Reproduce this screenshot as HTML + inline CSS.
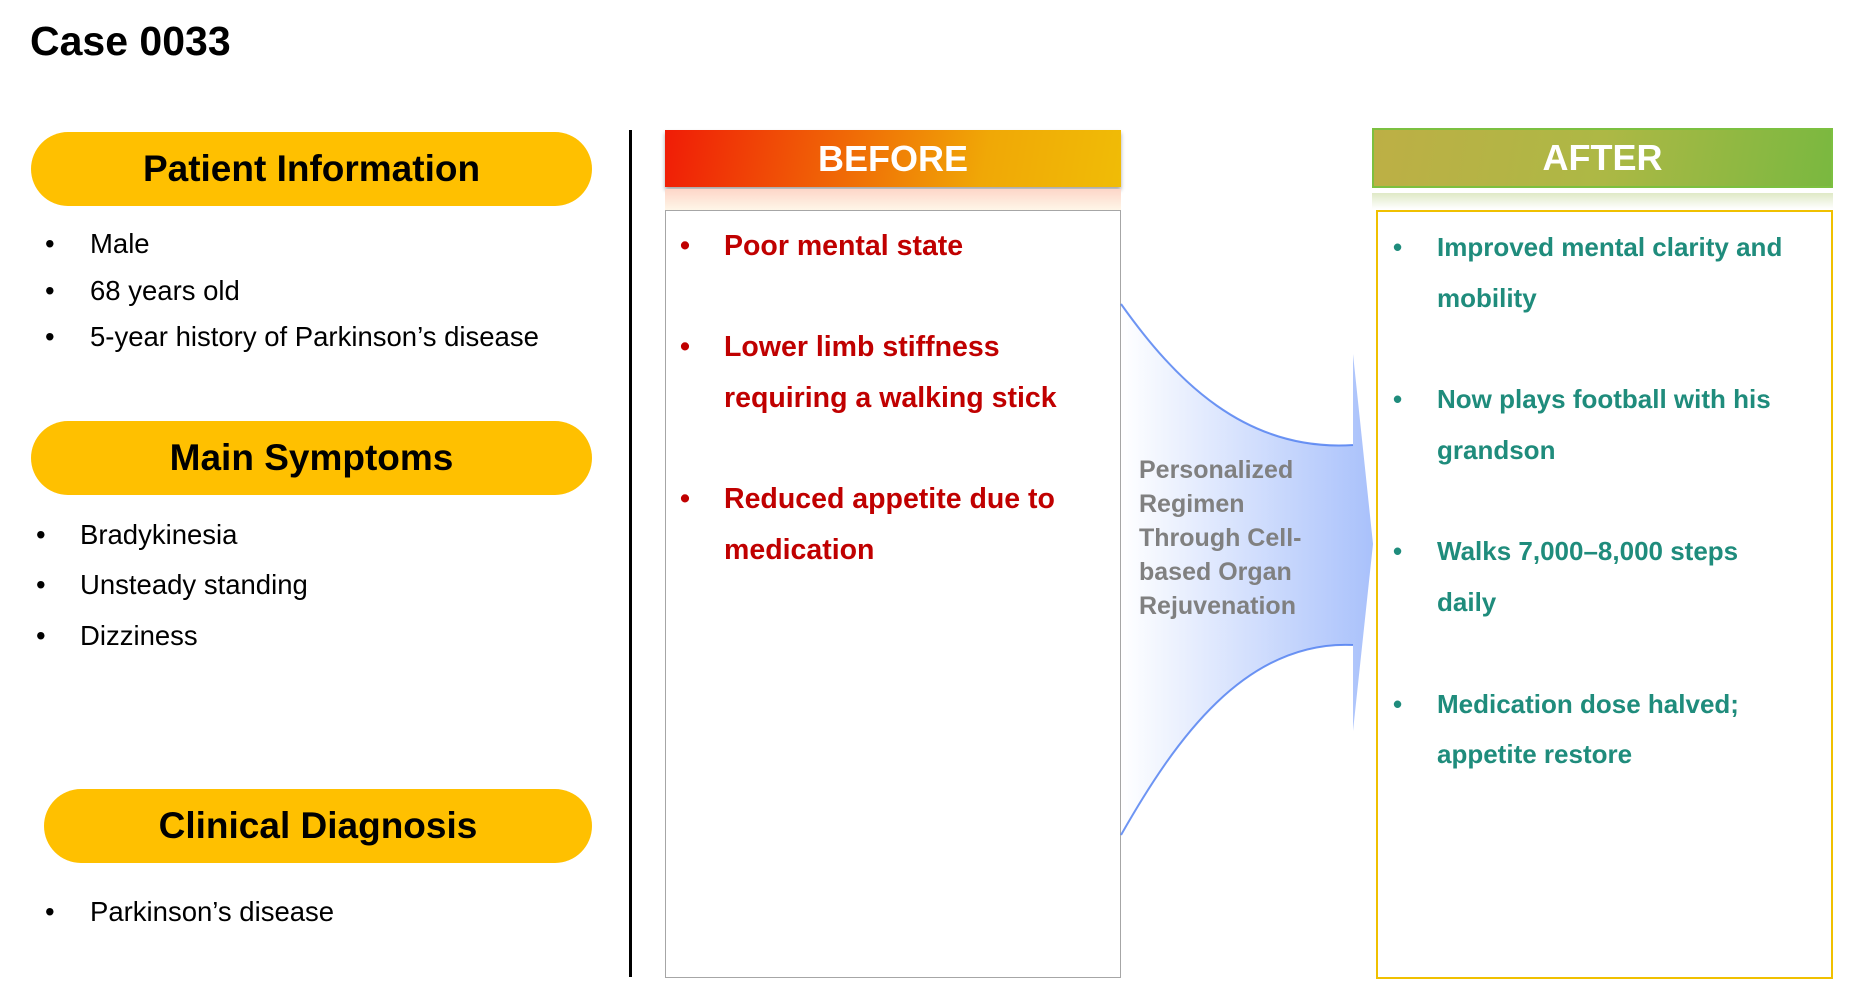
<!DOCTYPE html>
<html><head><meta charset="utf-8"><style>
body{margin:0;width:1860px;height:1007px;background:#fff;position:relative;overflow:hidden;font-family:"Liberation Sans",sans-serif}
.a{position:absolute;white-space:nowrap}
.pill{position:absolute;background:#ffc000;border-radius:37px;height:74px;display:flex;align-items:center;justify-content:center;font-weight:bold;font-size:37px;color:#000}
.li{font-size:27.5px;color:#000}
.red{font-size:28.5px;font-weight:bold;color:#c00000}
.grn{font-size:26px;font-weight:bold;color:#1f8c7c}
.gr{font-size:25px;font-weight:bold;color:#808080;line-height:34px}
</style></head><body>
<div class="a" style="left:30px;top:18px;font-size:41px;font-weight:bold">Case 0033</div>

<div class="pill" style="left:31px;top:132px;width:561px">Patient Information</div>
<div class="a li" style="left:45px;top:228px">•</div><div class="a li" style="left:90px;top:228px">Male</div>
<div class="a li" style="left:45px;top:275px">•</div><div class="a li" style="left:90px;top:275px">68 years old</div>
<div class="a li" style="left:45px;top:321px">•</div><div class="a li" style="left:90px;top:321px">5-year history of Parkinson’s disease</div>

<div class="pill" style="left:31px;top:421px;width:561px">Main Symptoms</div>
<div class="a li" style="left:36px;top:519px">•</div><div class="a li" style="left:80px;top:519px">Bradykinesia</div>
<div class="a li" style="left:36px;top:569px">•</div><div class="a li" style="left:80px;top:569px">Unsteady standing</div>
<div class="a li" style="left:36px;top:620px">•</div><div class="a li" style="left:80px;top:620px">Dizziness</div>

<div class="pill" style="left:44px;top:789px;width:548px">Clinical Diagnosis</div>
<div class="a li" style="left:45px;top:896px">•</div><div class="a li" style="left:90px;top:896px">Parkinson’s disease</div>

<div class="a" style="left:629px;top:130px;width:3px;height:847px;background:#000"></div>

<!-- BEFORE -->
<div class="a" style="left:665px;top:130px;width:456px;height:57px;background:linear-gradient(100deg,#f01c06,#f06a06 40%,#f0a806 70%,#f0bc06);box-shadow:0 3px 4px rgba(0,0,0,.35);color:#fff;font-weight:bold;font-size:36px;text-align:center;line-height:57px">BEFORE</div>
<div class="a" style="left:665px;top:189px;width:456px;height:21px;background:linear-gradient(#fdd6c8,#fff6e8)"></div>
<div class="a" style="left:665px;top:210px;width:454px;height:766px;border:1px solid #a6a6a6"></div>
<div class="a red" style="left:680px;top:230px">•</div><div class="a red" style="left:724px;top:230px">Poor mental state</div>
<div class="a red" style="left:680px;top:331px">•</div><div class="a red" style="left:724px;top:331px">Lower limb stiffness</div>
<div class="a red" style="left:724px;top:382px">requiring a walking stick</div>
<div class="a red" style="left:680px;top:483px">•</div><div class="a red" style="left:724px;top:483px">Reduced appetite due to</div>
<div class="a red" style="left:724px;top:534px">medication</div>

<!-- arrow -->
<svg class="a" style="left:0;top:0" width="1860" height="1007">
<defs><linearGradient id="g" x1="0" x2="1" y1="0" y2="0"><stop offset="0" stop-color="#fff"/><stop offset="1" stop-color="#a9c1fb"/></linearGradient></defs>
<path d="M1121 304 C1175 380 1245 452 1353 445 L1353 354 L1373 544 L1353 731 L1353 645 C1245 640 1175 740 1121 835 Z" fill="url(#g)"/>
<path d="M1121 304 C1175 380 1245 452 1353 445" fill="none" stroke="#4a7af0" stroke-width="2" opacity=".8"/>
<path d="M1353 645 C1245 640 1175 740 1121 835" fill="none" stroke="#4a7af0" stroke-width="2" opacity=".8"/>
</svg>
<div class="a gr" style="left:1139px;top:453px">Personalized<br>Regimen<br>Through Cell-<br>based Organ<br>Rejuvenation</div>

<!-- AFTER -->
<div class="a" style="left:1372px;top:128px;width:457px;height:56px;border:2px solid #7cc040;background:linear-gradient(100deg,#bdaf45,#adb845 50%,#7ab840);color:#fff;font-weight:bold;font-size:36px;text-align:center;line-height:56px">AFTER</div>
<div class="a" style="left:1372px;top:193px;width:461px;height:16px;background:linear-gradient(#dfe9c6,#fff)"></div>
<div class="a" style="left:1376px;top:210px;width:453px;height:765px;border:2px solid #f0c000"></div>
<div class="a grn" style="left:1393px;top:232px">•</div><div class="a grn" style="left:1437px;top:232px">Improved mental clarity and</div>
<div class="a grn" style="left:1437px;top:283px">mobility</div>
<div class="a grn" style="left:1393px;top:384px">•</div><div class="a grn" style="left:1437px;top:384px">Now plays football with his</div>
<div class="a grn" style="left:1437px;top:435px">grandson</div>
<div class="a grn" style="left:1393px;top:536px">•</div><div class="a grn" style="left:1437px;top:536px">Walks 7,000–8,000 steps</div>
<div class="a grn" style="left:1437px;top:587px">daily</div>
<div class="a grn" style="left:1393px;top:689px">•</div><div class="a grn" style="left:1437px;top:689px">Medication dose halved;</div>
<div class="a grn" style="left:1437px;top:739px">appetite restore</div>
</body></html>
